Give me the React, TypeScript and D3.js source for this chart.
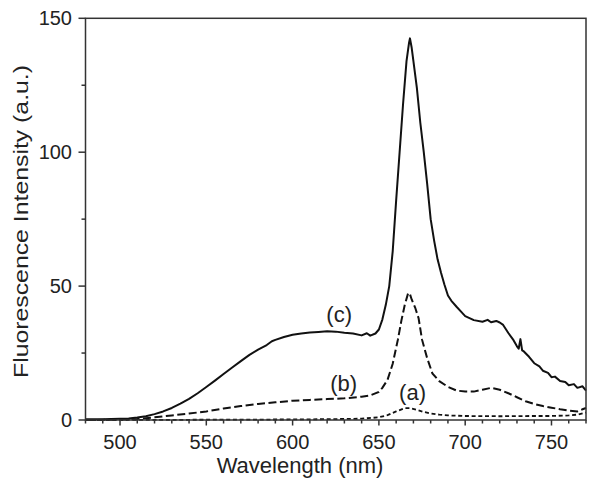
import React, { useEffect, useRef } from "react";
import * as d3 from "d3";

const wavelengthC = [480, 485, 490, 495, 500, 505, 510, 515, 520, 525, 530, 535, 540, 545, 550, 555, 560, 565, 570, 575, 580, 585, 588, 590, 595, 600, 605, 610, 615, 620, 625, 630, 635, 640, 643, 645, 648, 650, 652, 654, 656, 658, 660, 662, 664, 666, 667.5, 668, 669, 670, 672, 674, 676, 678, 680, 682, 684, 686, 688, 690, 692, 695, 698, 700, 705, 710, 713, 715, 718, 720, 722, 725, 728, 730, 731, 732, 733, 734, 737, 740, 743, 745, 748, 750, 752, 755, 758, 760, 763, 765, 768, 770];
const intensityC = [0.3, 0.3, 0.3, 0.4, 0.5, 0.6, 0.9, 1.4, 2.2, 3.2, 4.5, 6.1, 7.9, 10.0, 12.3, 14.7, 17.2, 19.6, 22.0, 24.3, 26.3, 28.0, 29.4, 29.9, 31.0, 31.8, 32.3, 32.7, 32.9, 33.1, 33.0, 32.6, 32.3, 31.6, 32.4, 31.5, 32.3, 33.8, 37.5, 43, 50, 63, 82, 100, 118, 134, 141, 142.5, 139, 134, 124, 111, 100, 88, 75, 67, 60, 55, 50.5, 46.5, 44.5, 42.3, 40.2, 38.8, 37.3, 36.7, 37.4, 36.5, 37.0, 36.4, 35.5, 32.5, 29.8, 27.5, 26.6, 30.2, 26.0, 25.6, 23.6, 21.2, 20.0, 18.4, 17.6, 16.0, 16.2, 14.6, 14.2, 13.0, 13.4, 12.0, 12.6, 11.0];

const wavelengthB = [480, 500, 510, 520, 530, 540, 550, 560, 570, 580, 590, 600, 610, 620, 630, 640, 645, 650, 652, 655, 658, 661, 663, 665, 667, 668, 669, 671, 673, 675, 678, 681, 685, 690, 695, 700, 705, 710, 715, 720, 725, 730, 735, 740, 745, 750, 755, 760, 765, 768, 770];
const intensityB = [0, 0.1, 0.4, 1.0, 1.7, 2.4, 3.2, 4.3, 5.2, 6.0, 6.6, 7.2, 7.5, 7.8, 8.1, 8.7, 9.2, 10.5, 12, 15, 21, 30, 37, 43, 47.5, 47, 45, 42, 38, 30, 23, 17.4, 14.5, 12.4, 11.0, 10.6, 10.6, 11.3, 12.0, 11.3, 10.0, 8.5, 7.0, 6.0, 5.2, 4.6, 4.0, 3.5, 3.2, 4.0, 4.5];

const wavelengthA = [480, 500, 550, 600, 620, 640, 650, 655, 660, 665, 668, 672, 676, 680, 685, 690, 700, 720, 740, 750, 760, 765, 770];
const intensityA = [0, 0, 0.1, 0.2, 0.3, 0.5, 1.0, 1.8, 3.2, 4.4, 4.4, 3.8, 3.0, 2.4, 2.0, 1.7, 1.5, 1.4, 1.5, 1.5, 1.7, 2.0, 2.8];

const xMajorTicks = [500, 550, 600, 650, 700, 750];
const xMinorTicks = d3.range(480, 771, 10).filter((v) => v % 50 !== 0);
const yMajorTicks = [0, 50, 100, 150];
const yMinorTicks = [25, 75, 125];

const curveLabels = [
  { text: "(c)", x: 627, y: 36.6 },
  { text: "(b)", x: 629.6, y: 11.0 },
  { text: "(a)", x: 669.5, y: 7.4 },
];

export default function App() {
  const ref = useRef<SVGSVGElement | null>(null);

  useEffect(() => {
    const svg = d3.select(ref.current);
    svg.selectAll("*").remove();
    const left = 85.5, right = 586, top = 18.3, bottom = 420;
    const x = d3.scaleLinear().domain([480, 770]).range([left, right]);
    const y = d3.scaleLinear().domain([0, 150]).range([bottom, top]);
    const axisColor = "#333";
    const font = "'Liberation Sans', Arial, sans-serif";

    const mk = (xs: number[], ys: number[]) =>
      d3.line<number>().x((_, i) => x(xs[i])).y((_, i) => y(ys[i]))(xs.map((_, i) => i)) as string;

    svg.append("path").attr("d", mk(wavelengthA, intensityA)).attr("fill", "none")
      .attr("stroke", "#111").attr("stroke-width", 1.8).attr("stroke-dasharray", "4,2.7");
    svg.append("path").attr("d", mk(wavelengthB, intensityB)).attr("fill", "none")
      .attr("stroke", "#111").attr("stroke-width", 2).attr("stroke-dasharray", "8,3.5");
    svg.append("path").attr("d", mk(wavelengthC, intensityC)).attr("fill", "none")
      .attr("stroke", "#111").attr("stroke-width", 2).attr("stroke-linejoin", "round");

    svg.append("rect").attr("x", left).attr("y", top).attr("width", right - left).attr("height", bottom - top)
      .attr("fill", "none").attr("stroke", axisColor).attr("stroke-width", 1.5);

    const xg = svg.append("g");
    xMajorTicks.forEach((v) => {
      xg.append("line").attr("x1", x(v)).attr("x2", x(v)).attr("y1", bottom).attr("y2", bottom + 5.5)
        .attr("stroke", axisColor).attr("stroke-width", 1.5);
      xg.append("text").attr("x", x(v)).attr("y", 449).attr("text-anchor", "middle")
        .attr("font-family", font).attr("font-size", 20).attr("fill", "#222").text(String(v));
    });
    xMinorTicks.forEach((v) => {
      xg.append("line").attr("x1", x(v)).attr("x2", x(v)).attr("y1", bottom).attr("y2", bottom + 3.5)
        .attr("stroke", axisColor).attr("stroke-width", 1.5);
    });

    const yg = svg.append("g");
    yMajorTicks.forEach((v) => {
      yg.append("line").attr("x1", left - 7).attr("x2", left).attr("y1", y(v)).attr("y2", y(v))
        .attr("stroke", axisColor).attr("stroke-width", 1.5);
      yg.append("text").attr("x", 72).attr("y", y(v)).attr("dy", "0.35em").attr("text-anchor", "end")
        .attr("font-family", font).attr("font-size", 20).attr("fill", "#222").text(String(v));
    });
    yMinorTicks.forEach((v) => {
      yg.append("line").attr("x1", left - 4).attr("x2", left).attr("y1", y(v)).attr("y2", y(v))
        .attr("stroke", axisColor).attr("stroke-width", 1.5);
    });

    svg.append("text").attr("x", 300).attr("y", 473).attr("text-anchor", "middle")
      .attr("font-family", font).attr("font-size", 22).attr("fill", "#222").text("Wavelength (nm)");
    svg.append("text").attr("transform", "translate(27.5,221.5) rotate(-90)").attr("text-anchor", "middle")
      .attr("font-family", font).attr("font-size", 20.5).attr("fill", "#222")
      .attr("textLength", 313).attr("lengthAdjust", "spacingAndGlyphs")
      .text("Fluorescence Intensity (a.u.)");

    curveLabels.forEach((l) => {
      svg.append("text").attr("x", x(l.x)).attr("y", y(l.y)).attr("text-anchor", "middle")
        .attr("font-family", font).attr("font-size", 22).attr("fill", "#222").text(l.text);
    });
  }, []);

  return (
    <svg ref={ref} width={600} height={492}
      style={{ position: "absolute", left: 0, top: 0, background: "#fff" }} />
  );
}
